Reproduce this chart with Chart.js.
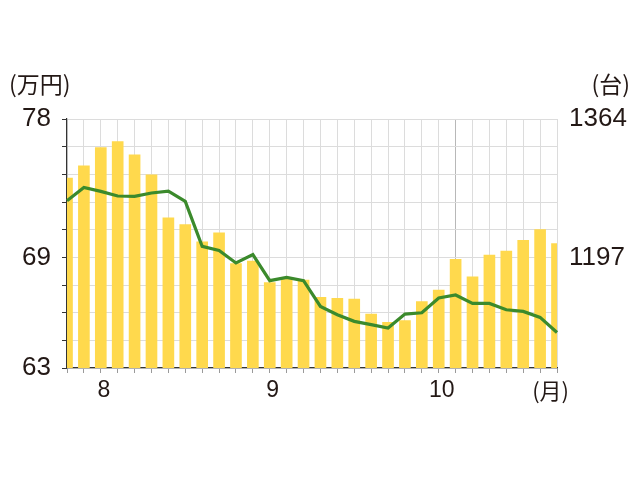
<!DOCTYPE html>
<html>
<head>
<meta charset="utf-8">
<script src="https://cdn.jsdelivr.net/npm/chart.js@4.4.0/dist/chart.umd.min.js"></script>
<style>
  html, body { margin: 0; padding: 0; background: #fff; }
  #marco { width: 640px; height: 480px; }
</style>
</head>
<body>
<div id="marco"><canvas id="grafico"></canvas></div>
<script>
// periodos del eje x (solo se rotulan los meses)
var periodos = ["", "", "8", "", "", "", "", "", "", "", "", "", "9", "", "", "", "", "", "", "", "", "", "10", "", "", "", "", "", "", ""];

// unidades (台) -> barras, eje derecho
var unidades = [1293, 1308, 1330, 1337, 1321, 1297, 1245, 1237, 1216, 1227,
                1190, 1193, 1167, 1173, 1170, 1149, 1148, 1147, 1129, 1119,
                1121, 1144, 1158, 1195, 1174, 1200, 1205, 1218, 1231, 1214];

// precio (万円) -> linea, eje izquierdo
var precio = [73.08, 73.88, 73.64, 73.36, 73.34, 73.54, 73.66, 73.04, 70.33, 70.08,
              69.33, 69.83, 68.26, 68.46, 68.26, 66.71, 66.21, 65.81, 65.61, 65.41,
              66.25, 66.33, 67.22, 67.40, 66.89, 66.89, 66.51, 66.41, 66.05, 65.14];

// rotulos de los ejes (de abajo hacia arriba, una por linea de la cuadricula)
var ticksIzq = ["63", "", "", "", "69", "", "", "", "", "78"];
var ticksDer = ["", "", "", "", "1197", "", "", "", "", "1364"];

var izqMin = 63, izqMax = 78;
var derMin = 1063.4, derMax = 1364;
var divisiones = 9;

var colorTexto = "#231815";

// reparte las lineas de la cuadricula en partes iguales
function repartir(min, max) {
  return function (scale) {
    var t = [];
    for (var i = 0; i < divisiones; i++) {
      t.push({ value: min + (max - min) * i / divisiones });
    }
    t.push({ value: max });
    scale.ticks = t;
  };
}

// textos de las unidades
var unidadesTexto = {
  id: "unidadesTexto",
  afterDraw: function (chart) {
    var ctx = chart.ctx;
    ctx.save();
    ctx.fillStyle = colorTexto;
    ctx.font = "23px 'Noto Sans CJK JP'";
    ctx.textBaseline = "middle";
    ctx.textAlign = "left";
    ctx.fillText("(万円)", 9, 84);
    ctx.textAlign = "right";
    ctx.fillText("(台)", 630, 84);
    ctx.font = "22px 'Noto Sans CJK JP'";
    ctx.fillText("(月)", 569, 391);
    ctx.restore();
  }
};

var datos = {
  labels: periodos,
  datasets: [
    {
      type: "line",
      label: "万円",
      data: precio,
      yAxisID: "y",
      borderColor: "#3b8a2c",
      borderWidth: 3.2,
      pointRadius: 0,
      tension: 0,
      order: 0
    },
    {
      type: "bar",
      label: "台",
      data: unidades,
      yAxisID: "y1",
      backgroundColor: "#ffd94d",
      borderWidth: 0,
      barPercentage: 0.69,
      categoryPercentage: 1,
      clip: 0,
      order: 1
    }
  ]
};

var opciones = {
  responsive: true,
  maintainAspectRatio: false,
  animation: false,
  layout: { padding: { top: 119, bottom: 72, left: 0, right: 0 } },
  plugins: { legend: { display: false }, tooltip: { enabled: false } },
  scales: {
    x: {
      offset: false,
      grid: {
        offset: false,
        color: function (c) { return c.index === 23 ? "#b8b8b8" : "#dcdcdc"; },
        tickColor: "#9a9a9a",
        tickLength: 5
      },
      border: { color: "#333", width: 1.2 },
      ticks: {
        autoSkip: false,
        maxRotation: 0,
        labelOffset: 3,
        padding: 4,
        color: colorTexto,
        font: { family: "'Liberation Sans', Arial", size: 23 }
      },
      afterFit: function (s) { s.height = 40; }
    },
    y: {
      position: "left",
      min: izqMin,
      max: izqMax,
      afterBuildTicks: repartir(izqMin, izqMax),
      grid: { color: "#dcdcdc", tickColor: "#333", tickLength: 5 },
      border: { color: "#333", width: 1.2 },
      ticks: {
        autoSkip: false,
        padding: 11,
        color: colorTexto,
        font: { family: "'Liberation Sans', Arial", size: 26 },
        callback: function (v, i) { return ticksIzq[i]; }
      },
      afterFit: function (s) { s.width = 67; }
    },
    y1: {
      position: "right",
      min: derMin,
      max: derMax,
      afterBuildTicks: repartir(derMin, derMax),
      grid: { display: false, drawTicks: false, tickLength: 0 },
      border: { display: false },
      ticks: {
        autoSkip: false,
        padding: 12,
        color: colorTexto,
        font: { family: "'Liberation Sans', Arial", size: 26 },
        callback: function (v, i) { return ticksDer[i]; }
      },
      afterFit: function (s) { s.width = 83; }
    }
  }
};

const ctx = document.getElementById("grafico");
const grafico = new Chart(ctx, {
  type: "bar",
  data: datos,
  options: opciones,
  plugins: [unidadesTexto]
});
</script>
</body>
</html>
